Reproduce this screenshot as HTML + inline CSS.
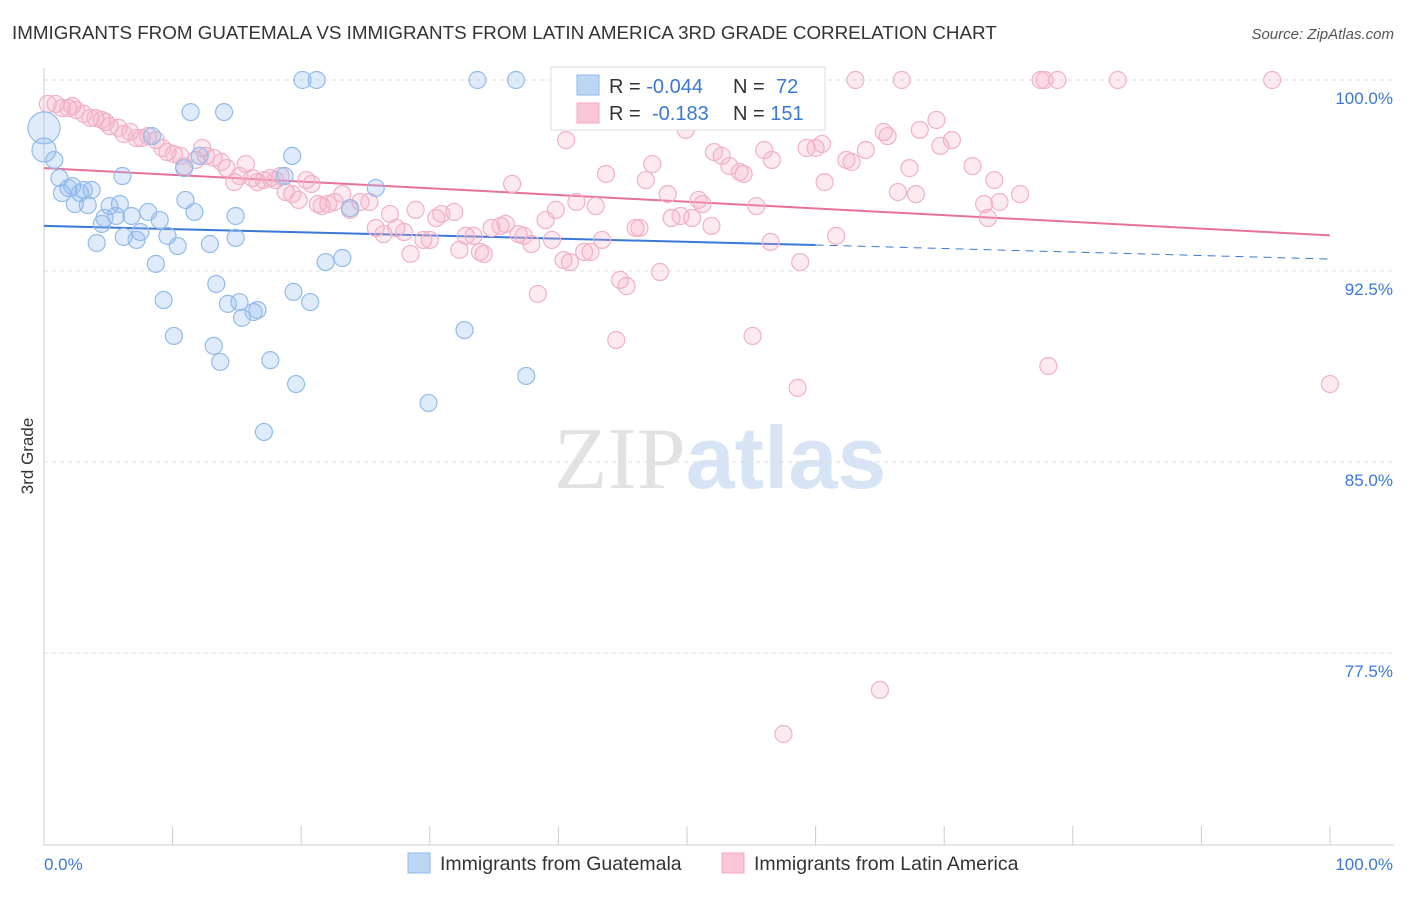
<!DOCTYPE html>
<html><head><meta charset="utf-8"><style>
body{margin:0;background:#fff;font-family:"Liberation Sans",sans-serif;}
svg text{font-family:"Liberation Sans",sans-serif;}
</style></head><body>
<svg id="c" width="1406" height="892" xmlns="http://www.w3.org/2000/svg">
<text x="12" y="39" font-size="18.8" fill="#333">IMMIGRANTS FROM GUATEMALA VS IMMIGRANTS FROM LATIN AMERICA 3RD GRADE CORRELATION CHART</text>
<text x="1394" y="39" font-size="15" fill="#555" text-anchor="end" font-style="italic">Source: ZipAtlas.com</text>
<text x="720" y="488" font-size="88" text-anchor="middle"><tspan fill="#e2e2e2" font-family="Liberation Serif">ZIP</tspan><tspan fill="#d6e4f5" font-weight="bold">atlas</tspan></text>
<text transform="translate(33,456) rotate(-90)" font-size="17" fill="#333" text-anchor="middle">3rd Grade</text>
<g id="grid"></g><g id="trends"></g><g id="pts"></g>
<g>
<rect x="551" y="67" width="274" height="63" fill="#fff" stroke="#ddd"/>
<rect x="577" y="75" width="22" height="20" fill="#bcd6f5" stroke="#8fb8ea"/>
<rect x="577" y="103" width="22" height="20" fill="#f9c6d6" stroke="#f0a8c0"/>
<text x="609" y="93" font-size="20" fill="#333">R = <tspan fill="#3a78d8">-0.044</tspan><tspan x="733">N = </tspan><tspan fill="#3a78d8" x="776">72</tspan></text>
<text x="609" y="120" font-size="20" fill="#333">R = <tspan fill="#3a78d8" x="652">-0.183</tspan><tspan x="733">N = </tspan><tspan fill="#3a78d8">151</tspan></text>
</g>
<g>
<rect x="408" y="853" width="22" height="20" fill="#bcd6f5" stroke="#8fb8ea"/>
<text x="440" y="870" font-size="19.5" fill="#333">Immigrants from Guatemala</text>
<rect x="722" y="853" width="22" height="20" fill="#f9c6d6" stroke="#f0a8c0"/>
<text x="754" y="870" font-size="19.5" fill="#333">Immigrants from Latin America</text>
</g>
</svg>
<script>
const yTicks=[100,92.5,85,77.5];
const yTickLabels=["100.0%","92.5%","85.0%","77.5%"];
const xTickLabels=["0.0%","100.0%"];
const blue=[[0,98.12],[0,97.25],[0.8,96.86],[1.2,96.15],[1.4,95.56],[1.9,95.76],[2.2,95.84],[2.4,95.13],[2.8,95.56],[3.1,95.68],[3.4,95.09],[3.7,95.68],[4.1,93.6],[4.5,94.35],[4.7,94.58],[5.1,95.05],[5.6,94.66],[5.9,95.13],[6.1,96.23],[6.2,93.84],[6.8,94.66],[7.2,93.72],[7.5,94.03],[8.1,94.82],[8.4,97.8],[8.7,92.78],[9.0,94.5],[9.3,91.36],[9.6,93.88],[10.1,89.95],[10.4,93.48],[10.9,96.54],[11.0,95.29],[11.4,98.74],[11.7,94.82],[12.1,97.02],[12.9,93.56],[13.2,89.56],[13.4,91.99],[13.7,88.93],[14.0,98.74],[14.3,91.21],[14.9,94.66],[14.9,93.8],[15.2,91.28],[15.4,90.66],[16.3,90.89],[16.6,90.97],[17.1,86.18],[17.6,89.0],[18.7,96.23],[19.3,97.02],[19.4,91.68],[19.6,88.06],[20.1,100],[20.7,91.28],[21.2,100],[21.9,92.85],[23.2,93.01],[23.8,94.97],[25.8,95.76],[29.9,87.32],[32.7,90.18],[33.7,100],[36.7,100],[37.5,88.38],[60.0,100]];
const pink=[[0.3,99.06],[0.9,99.06],[1.4,98.9],[1.9,98.9],[2.2,98.98],[2.5,98.82],[3.1,98.67],[3.6,98.51],[4.0,98.51],[4.5,98.43],[4.8,98.35],[5.1,98.19],[5.8,98.12],[6.2,97.88],[6.7,97.96],[7.2,97.72],[7.6,97.72],[8.1,97.8],[8.7,97.64],[9.2,97.33],[9.6,97.17],[10.1,97.09],[10.6,97.02],[10.9,96.62],[11.8,96.86],[12.3,97.33],[12.6,97.02],[13.2,96.94],[13.8,96.78],[14.2,96.54],[14.8,95.99],[15.2,96.23],[15.7,96.7],[16.2,96.15],[16.6,95.99],[17.1,96.07],[17.6,96.15],[18.0,96.07],[18.4,96.23],[18.8,95.6],[19.3,95.52],[19.8,95.29],[20.4,96.07],[20.8,95.92],[21.3,95.13],[21.6,95.05],[22.1,95.13],[22.6,95.21],[23.2,95.52],[23.8,94.9],[24.6,95.21],[25.3,95.21],[25.8,94.19],[26.4,93.95],[26.9,94.74],[27.4,94.19],[28.0,94.03],[28.5,93.17],[28.9,94.9],[29.5,93.72],[30.0,93.72],[30.5,94.58],[30.9,94.74],[31.9,94.82],[32.3,93.33],[32.8,93.88],[33.4,93.88],[33.9,93.25],[34.2,93.17],[34.8,94.19],[35.5,94.27],[35.9,94.35],[36.4,95.92],[36.9,93.95],[37.3,93.88],[37.9,93.56],[38.4,91.6],[39.0,94.5],[39.5,93.72],[39.8,94.9],[40.4,92.93],[40.9,92.85],[41.4,95.21],[42.0,93.25],[42.5,93.25],[42.9,95.05],[43.4,93.72],[43.7,96.31],[44.5,89.79],[44.8,92.15],[45.3,91.91],[46.0,94.19],[46.3,94.19],[46.8,96.07],[47.3,96.7],[47.9,92.46],[48.5,95.52],[48.8,94.58],[49.5,94.66],[49.9,98.04],[50.4,94.58],[50.9,95.29],[51.2,95.13],[51.9,94.27],[52.1,97.17],[52.7,97.02],[53.3,96.62],[54.1,96.39],[54.4,96.31],[55.1,89.95],[55.4,95.05],[56.0,97.25],[56.5,93.64],[56.6,96.86],[57.5,74.32],[58.6,87.91],[58.8,92.85],[59.3,97.33],[60.0,97.33],[60.5,97.49],[60.7,95.99],[61.6,93.88],[62.4,96.86],[62.8,96.78],[63.1,100],[63.9,97.25],[65.0,76.05],[65.3,97.96],[65.6,97.8],[66.4,95.6],[66.7,100],[67.3,96.54],[67.8,95.52],[68.1,98.04],[69.4,98.43],[69.7,97.41],[70.6,97.64],[72.2,96.62],[73.1,95.13],[73.4,94.58],[73.9,96.07],[74.3,95.21],[75.9,95.52],[77.5,100],[77.8,100],[78.1,88.77],[78.8,100],[83.5,100],[95.5,100],[100,88.06],[53.2,98.74],[40.6,97.64]];
const blueTrend=[94.27,93.52,92.97]; // y at x=0, 60, 100
const pinkTrend=[96.54,93.9]; // y at x=0,100
const NS="http://www.w3.org/2000/svg";
const X=v=>44+v*12.86, Y=v=>80+(100-v)/7.5*191;
function mk(t,a,p){const e=document.createElementNS(NS,t);for(const k in a)e.setAttribute(k,a[k]);document.getElementById(p).appendChild(e);return e;}
yTicks.forEach((t,i)=>{
 const l=mk('line',{x1:44,x2:1394,y1:Y(t),y2:Y(t),stroke:'#ddd','stroke-dasharray':'4,4'},'grid');
 
 
 const tx=mk('text',{x:1393,y:Y(t)+24,'font-size':17,fill:'#3a78d8','text-anchor':'end'},'grid');
 tx.textContent=yTickLabels[i];
 
 
});
const ax=mk('line',{x1:44,x2:1394,y1:845,y2:845,stroke:'#ccc'},'grid');


const ay=mk('line',{x1:44,x2:44,y1:68,y2:845,stroke:'#ccc'},'grid');


for(let i=0;i<=10;i++){const t=mk('line',{x1:X(i*10),x2:X(i*10),y1:826,y2:845,stroke:'#ccc'},'grid');
 
 }
[[0,'start',44],[1,'end',1393]].forEach(([i,a,x])=>{const t=mk('text',{x:x,y:870,'font-size':17,fill:'#3a78d8','text-anchor':a},'grid');t.textContent=xTickLabels[i];
 
 });
pink.forEach(p=>{const c=mk('circle',{cx:X(p[0]),cy:Y(p[1]),r:8.5,fill:'rgba(244,170,195,0.25)',stroke:'#f2b0c6','stroke-width':1.2},'pts');
 
 });
blue.forEach((p,i)=>{const c=mk('circle',{cx:X(p[0]),cy:Y(p[1]),r:i==0?16:(i==1?12:8.5),fill:'rgba(150,190,240,0.3)',stroke:'#93bbea','stroke-width':1.2},'pts');
 
 });
let l=mk('line',{x1:X(0),y1:Y(blueTrend[0]),x2:X(60),y2:Y(blueTrend[1]),stroke:'#3a78d8','stroke-width':2},'trends');


l=mk('line',{x1:X(60),y1:Y(blueTrend[1]),x2:X(100),y2:Y(blueTrend[2]),stroke:'#3a78d8','stroke-width':1,'stroke-dasharray':'8,6'},'trends');


l=mk('line',{x1:X(0),y1:Y(pinkTrend[0]),x2:X(100),y2:Y(pinkTrend[1]),stroke:'#e8719a','stroke-width':2},'trends');


</script>
</body></html>
